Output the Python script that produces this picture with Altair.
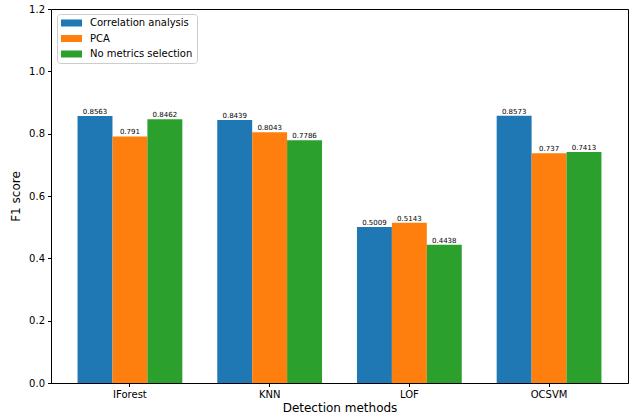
import altair as alt
import pandas as pd

methods = ["IForest", "KNN", "LOF", "OCSVM"]
series = ["Correlation analysis", "PCA", "No metrics selection"]
correlation_analysis = [0.8563, 0.8439, 0.5009, 0.8573]
pca = [0.791, 0.8043, 0.5143, 0.737]
no_selection = [0.8462, 0.7786, 0.4438, 0.7413]
colors = ["#1f77b4", "#ff7f0e", "#2ca02c"]

rows = []
for name, vals in zip(series, [correlation_analysis, pca, no_selection]):
    for m, v in zip(methods, vals):
        rows.append({"method": m, "series": name, "f1": v, "label": f"{v:g}"})
df = pd.DataFrame(rows)

FONT = "DejaVu Sans"

x_enc = alt.X(
    "method:N",
    sort=methods,
    scale=alt.Scale(paddingInner=0.25, paddingOuter=0.19),
    axis=alt.Axis(
        title="Detection methods", labelAngle=0, titleFontSize=12,
        labelFontSize=10, tickSize=3.5, labelPadding=3, titlePadding=3,
        titleFontWeight="normal",
    ),
)
xoff = alt.XOffset("series:N", sort=series, scale=alt.Scale(paddingInner=0, paddingOuter=0))
y_enc = alt.Y(
    "f1:Q",
    scale=alt.Scale(domain=[0, 1.2], nice=False),
    axis=alt.Axis(
        title="F1 score", values=[0, 0.2, 0.4, 0.6, 0.8, 1.0, 1.2], format=".1f",
        titleFontSize=12, labelFontSize=10, tickSize=3.5, labelPadding=3,
        titlePadding=6, titleFontWeight="normal", grid=False,
    ),
)

# wide flat swatch, anchored at the left edge of a 10px symbol slot
swatch = "M-1,-0.7L3.2,-0.7L3.2,0.7L-1,0.7Z"

bars = alt.Chart(df).mark_bar().encode(
    x=x_enc,
    xOffset=xoff,
    y=y_enc,
    color=alt.Color(
        "series:N", sort=series,
        scale=alt.Scale(domain=series, range=colors),
        legend=alt.Legend(
            title=None, orient="none", legendX=6, legendY=5,
            symbolType=swatch, symbolSize=100,
            symbolStrokeWidth=0, labelFontSize=10, labelFont=FONT,
            labelOffset=19, rowPadding=5.5, padding=4,
            fillColor="white", strokeColor="#cccccc", cornerRadius=3,
        ),
    ),
)

labels = alt.Chart(df).mark_text(
    baseline="bottom", dy=-1, fontSize=7, font=FONT, color="black"
).encode(
    x=alt.X("method:N", sort=methods),
    xOffset=alt.XOffset("series:N", sort=series),
    y="f1:Q",
    text="label:N",
)

chart = (
    alt.layer(bars, labels)
    .properties(
        width=577, height=374,
        autosize=alt.AutoSizeParams(type="none"),
        padding={"left": 51, "top": 9, "right": 1, "bottom": 36},
    )
    .configure(font=FONT)
    .configure_view(stroke="black", strokeWidth=1)
    .configure_axis(
        domainColor="black", tickColor="black", labelColor="black",
        titleColor="black", labelFont=FONT, titleFont=FONT,
    )
)

chart.save("out.html", embed_options={"renderer": "svg", "actions": False})
